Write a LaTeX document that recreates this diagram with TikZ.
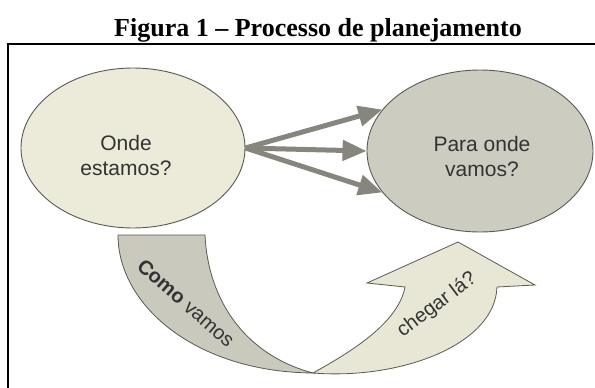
\documentclass[tikz,border=0pt]{standalone}
\usepackage{fontspec}
\setmainfont{Liberation Serif}
\newfontfamily\diagfont{Liberation Sans}
\usepackage{tikz}
\usetikzlibrary{shapes.geometric,arrows.meta}
\definecolor{paleyellow}{HTML}{ECEBDA}
\definecolor{midgray}{HTML}{CDCCC1}
\definecolor{bandgray}{HTML}{C9C9BE}
\definecolor{bandpale}{HTML}{E8E7D5}
\definecolor{arrowgray}{HTML}{86867F}
\definecolor{edgegray}{HTML}{5A5A55}

\begin{document}
\begin{tikzpicture}[x=1pt,y=-1pt,
    bubble/.style={ellipse, draw=edgegray, line width=.9pt, inner sep=0pt},
    flow/.style={arrowgray, line width=5pt, -{Triangle[length=24pt,width=20pt]}},
    band/.style={draw=edgegray, line width=.8pt},
    txt/.style={font=\diagfont\fontsize{21}{25}\selectfont, text=black!80, align=center},
    bandtxt/.style={font=\diagfont\fontsize{20}{24}\selectfont, text=black!80, inner sep=0pt}]
            \fill[white] (0,0) rectangle (595,388);
            \useasboundingbox (0,0) rectangle (595,388);

            % title and frame
            \node[font=\bfseries\fontsize{26}{30}\selectfont, anchor=base] (title) at (318,36) {Figura 1 -- Processo de planejamento};
            \draw[line width=2pt] (8,390) -- (8,44) -- (600,44);

            % ellipses
            \node[bubble, fill=paleyellow, minimum width=224pt, minimum height=160pt] (onde) at (133,148) {};
            \node[bubble, fill=midgray, minimum width=226pt, minimum height=162pt] (para) at (480,151) {};
            \node[txt] (ondetxt) at (126,155) {Onde\\estamos?};
            \node[txt] (paratxt) at (482,156) {Para onde\\vamos?};

            % three arrows
            \coordinate (src) at (onde.east);
            \foreach \a in {157,180,203} {
              \draw[flow] (src) -- (para.\a);
            }

            % lower bands
            \coordinate (meet) at (313,373);
            \draw[band, fill=bandgray] (118,235) -- (205,235)
              .. controls (208,300) and (245,355) .. (meet)
              .. controls (195,372) and (118,305) .. (118,235) -- cycle;
            \draw[band, fill=bandpale] (meet)
              .. controls (400,380) and (495,345) .. (497,287)
              -- (535,285) -- (458,242) -- (367,283) -- (405,287)
              .. controls (398,325) and (345,355) .. (meet) -- cycle;

            \node[bandtxt, rotate=-41] (como) at (186,303) {\textbf{Como} vamos};
            \node[bandtxt, rotate=37] (chegar) at (437,305) {chegar lá?};
\end{tikzpicture}
\end{document}
